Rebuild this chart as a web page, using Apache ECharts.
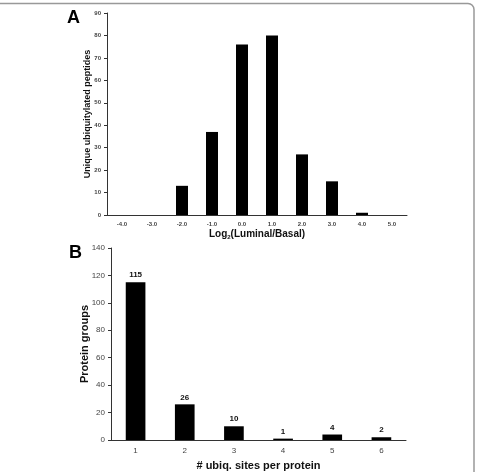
<!DOCTYPE html>
<html>
<head>
<meta charset="utf-8">
<script src="https://cdn.jsdelivr.net/npm/echarts@6/dist/echarts.min.js"></script>
<style>
  html, body { margin: 0; padding: 0; background: #fff; }
  #main { width: 477px; height: 472px; }
</style>
</head>
<body>
<div id="main"></div>
<script>
// panel A: log2 ratio histogram
const ratioBins = ['-4.0', '-3.0', '-2.0', '-1.0', '0.0', '1.0', '2.0', '3.0', '4.0', '5.0'];
const peptideCounts = [0, 0, 13, 37, 76, 80, 27, 15, 1, 0];

// panel B: sites per protein
const siteCounts = ['1', '2', '3', '4', '5', '6'];
const proteinGroups = [115, 26, 10, 1, 4, 2];

const font = 'Liberation Sans, Arial, sans-serif';

const chart = echarts.init(document.getElementById('main'));
chart.setOption({
  animation: false,
  backgroundColor: '#fff',
  graphic: [
    // frame around the figure
    { type: 'rect', shape: { x: -20, y: 3.5, width: 494, height: 520, r: 6 },
      style: { fill: 'none', stroke: '#999', lineWidth: 1.5 } },
    { type: 'text', left: 67, top: 9,
      style: { text: 'A', font: 'bold 18px ' + font, fill: '#000' } },
    { type: 'text', left: 69, top: 244,
      style: { text: 'B', font: 'bold 18px ' + font, fill: '#000' } }
  ],
  grid: [
    { left: 107, top: 13, width: 300, height: 202 },
    { left: 111, top: 248, width: 295, height: 196 }
  ],
  xAxis: [
    {
      gridIndex: 0, type: 'category', data: ratioBins,
      axisLine: { lineStyle: { color: '#333', width: 1 } },
      axisTick: { length: 3, lineStyle: { color: '#333' } },
      axisLabel: { fontSize: 6, fontWeight: 'bold', color: '#444', fontFamily: font, margin: 6 },
      name: '{a|Log}{s|2}{a|(Luminal/Basal)}',
      nameLocation: 'middle', nameGap: 13,
      nameTextStyle: {
        rich: {
          a: { fontSize: 10, fontWeight: 'bold', color: '#111', fontFamily: font },
          s: { fontSize: 6, fontWeight: 'bold', color: '#111', fontFamily: font, padding: [6, 0, 0, 0] }
        }
      }
    },
    {
      gridIndex: 1, type: 'category', data: siteCounts,
      axisLine: { lineStyle: { color: '#333', width: 1 } },
      axisTick: { length: 3, lineStyle: { color: '#333' } },
      axisLabel: { fontSize: 8, color: '#444', fontFamily: font, margin: 7 },
      name: '# ubiq. sites per protein',
      nameLocation: 'middle', nameGap: 20,
      nameTextStyle: { fontSize: 11, fontWeight: 'bold', color: '#111', fontFamily: font }
    }
  ],
  yAxis: [
    {
      gridIndex: 0, type: 'value', min: 0, max: 90, interval: 10,
      splitLine: { show: false },
      axisLine: { show: true, lineStyle: { color: '#333', width: 1 } },
      axisTick: { show: true, length: 3, lineStyle: { color: '#333' } },
      axisLabel: { fontSize: 6, fontWeight: 'bold', color: '#444', fontFamily: font, margin: 6 },
      name: 'Unique ubiquitylated peptides',
      nameLocation: 'middle', nameGap: 15, nameMoveOverlap: false,
      nameTextStyle: { fontSize: 9, fontWeight: 'bold', color: '#111', fontFamily: font }
    },
    {
      gridIndex: 1, type: 'value', min: 0, max: 140, interval: 20,
      splitLine: { show: false },
      axisLine: { show: true, lineStyle: { color: '#333', width: 1 } },
      axisTick: { show: true, length: 3, lineStyle: { color: '#333' } },
      axisLabel: { fontSize: 8, color: '#444', fontFamily: font, margin: 6 },
      name: 'Protein groups',
      nameLocation: 'middle', nameGap: 21, nameMoveOverlap: false,
      nameTextStyle: { fontSize: 11, fontWeight: 'bold', color: '#111', fontFamily: font }
    }
  ],
  series: [
    {
      type: 'bar', xAxisIndex: 0, yAxisIndex: 0, data: peptideCounts,
      barWidth: '40%', itemStyle: { color: '#000' }
    },
    {
      type: 'bar', xAxisIndex: 1, yAxisIndex: 1, data: proteinGroups,
      barWidth: '40%', itemStyle: { color: '#000' },
      label: { show: true, position: 'top', distance: 3, fontSize: 8, fontWeight: 'bold', color: '#111', fontFamily: font }
    }
  ]
});
</script>
</body>
</html>
